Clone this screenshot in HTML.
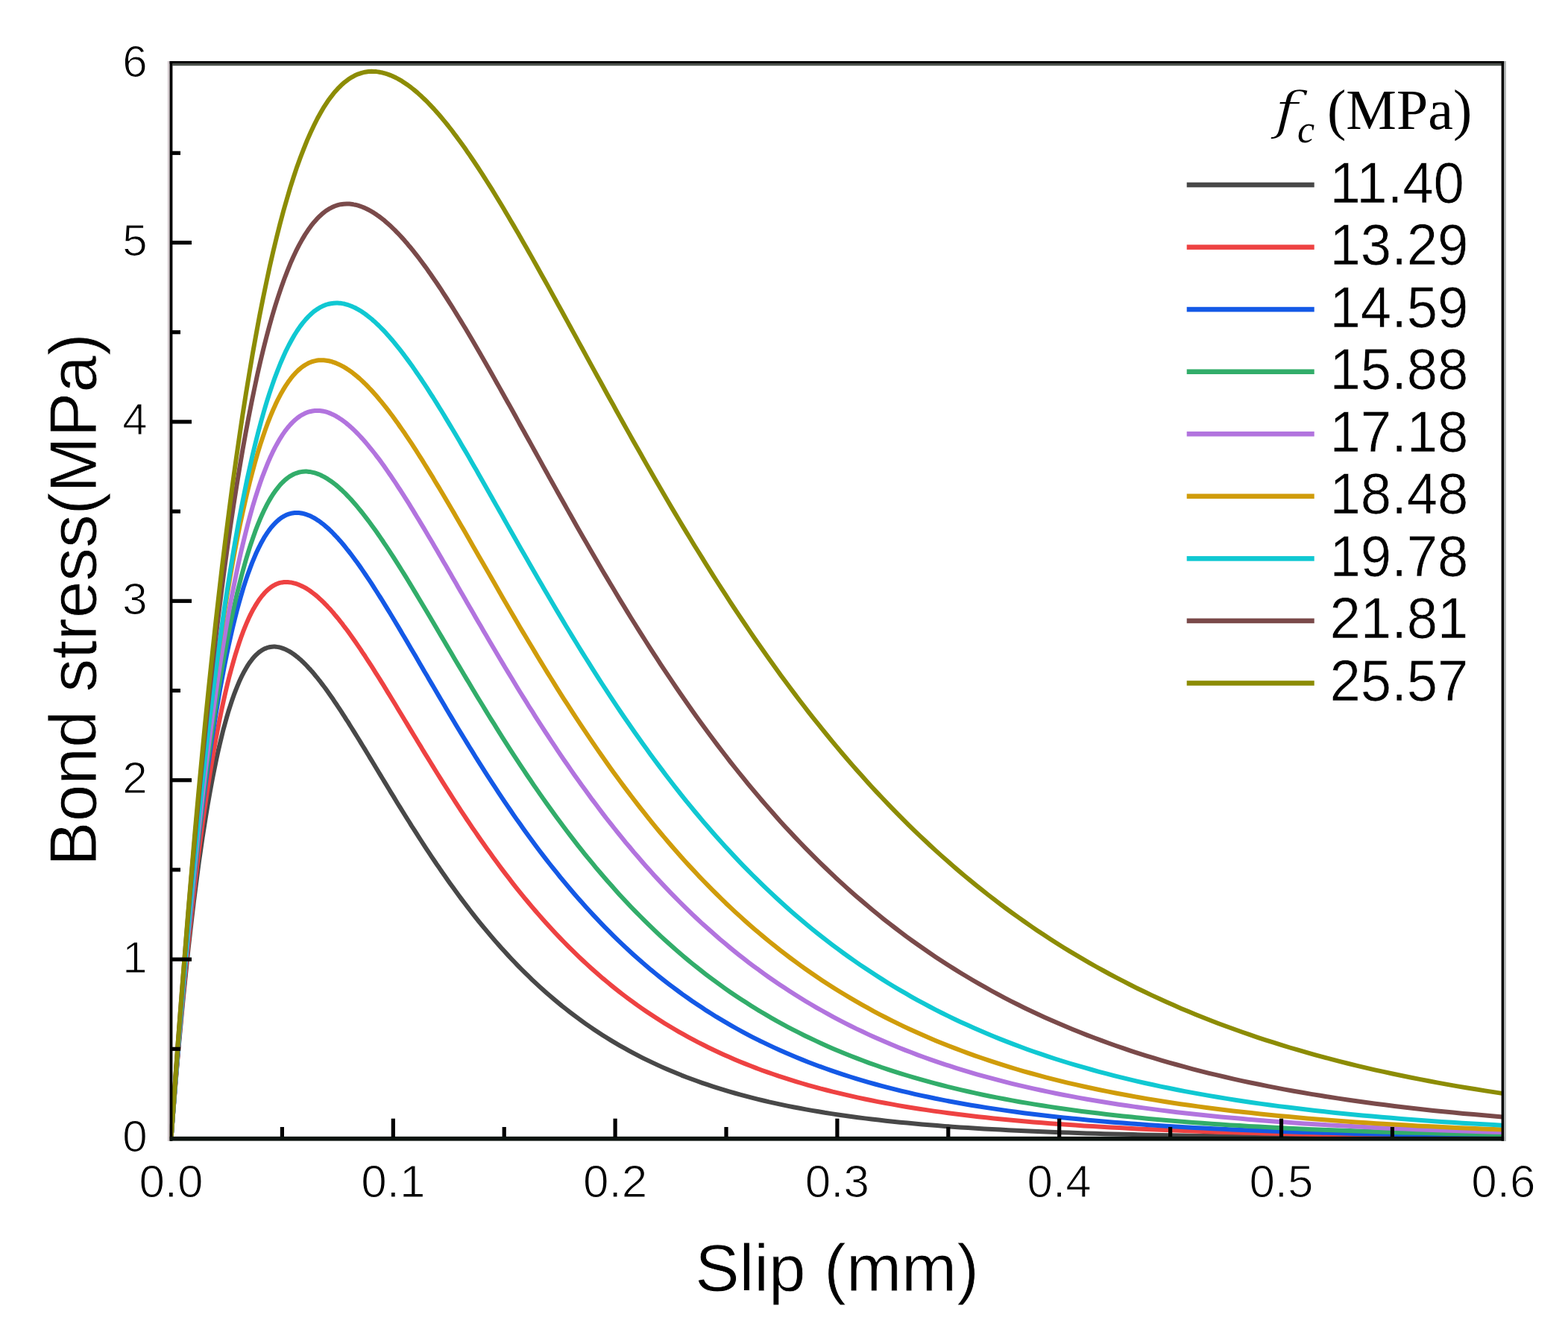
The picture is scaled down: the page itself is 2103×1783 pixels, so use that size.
<!DOCTYPE html><html><head><meta charset="utf-8"><title>Bond stress vs slip</title><style>html,body{margin:0;padding:0;background:#fff;overflow:hidden}svg{display:block}text{font-family:"Liberation Sans",Arial,sans-serif;fill:#000}.tm{font-family:"Liberation Serif","Times New Roman",serif}.dv{font-family:"DejaVu Serif",serif}</style></head><body>
<svg width="2103" height="1783" viewBox="0 0 2103 1783">
<rect width="2103" height="1783" fill="#fff"/>
<g fill="none" stroke-width="6.0" stroke-linejoin="round" stroke-linecap="butt">
<path stroke="#484848" d="M229.5,1527.5 231.8,1497.6 234.2,1468.7 236.5,1440.8 238.8,1413.9 241.2,1387.8 243.5,1362.7 245.8,1338.5 248.2,1315.1 250.5,1292.6 252.8,1270.9 255.2,1249.9 257.5,1229.8 259.8,1210.4 262.2,1191.8 264.5,1173.8 266.8,1156.6 269.2,1140.0 271.5,1124.1 273.9,1108.9 276.2,1094.2 278.5,1080.2 280.9,1066.8 283.2,1054.0 285.5,1041.7 287.9,1029.9 290.2,1018.7 292.5,1008.0 294.9,997.9 297.2,988.2 299.5,978.9 301.9,970.2 304.2,961.9 306.5,954.0 308.9,946.6 311.2,939.5 313.5,932.9 315.9,926.6 318.2,920.8 320.5,915.3 322.9,910.1 325.2,905.3 327.5,900.9 329.9,896.7 332.2,892.9 334.5,889.4 336.9,886.2 339.2,883.2 341.5,880.6 343.9,878.2 346.2,876.1 348.6,874.2 350.9,872.6 353.2,871.2 355.6,870.1 357.9,869.2 360.2,868.5 362.6,868.0 364.9,867.7 367.2,867.6 368.6,867.6 370.0,867.7 371.4,867.9 372.8,868.1 374.2,868.3 375.7,868.7 377.1,869.1 378.6,869.6 380.1,870.1 381.6,870.7 383.1,871.3 384.6,872.1 386.1,872.9 387.7,873.7 389.3,874.6 390.9,875.6 392.5,876.7 394.1,877.8 395.7,879.0 397.4,880.3 399.0,881.6 400.7,883.1 402.4,884.5 404.2,886.1 405.9,887.7 407.6,889.4 409.4,891.2 411.2,893.0 413.0,894.9 414.8,896.9 416.7,898.9 418.6,901.0 420.4,903.2 422.3,905.5 424.2,907.8 426.2,910.2 428.1,912.7 430.1,915.2 432.1,917.9 434.1,920.5 436.2,923.3 438.2,926.1 440.3,929.0 442.4,932.0 444.5,935.0 446.7,938.1 448.8,941.3 451.0,944.5 453.2,947.8 455.4,951.2 457.7,954.6 459.9,958.1 462.2,961.6 464.5,965.3 466.9,968.9 469.2,972.7 471.6,976.5 474.0,980.3 476.5,984.3 478.9,988.2 481.4,992.3 483.9,996.4 486.4,1000.5 489.0,1004.7 491.6,1009.0 494.2,1013.3 496.8,1017.6 499.5,1022.0 502.2,1026.5 504.9,1031.0 507.6,1035.5 510.4,1040.1 513.2,1044.7 516.0,1049.4 518.9,1054.1 521.7,1058.8 524.6,1063.6 527.6,1068.4 530.5,1073.3 533.5,1078.2 536.6,1083.1 539.6,1088.0 542.7,1093.0 545.8,1098.0 549.0,1103.0 552.1,1108.1 555.4,1113.1 558.6,1118.2 561.9,1123.3 565.2,1128.5 568.5,1133.6 571.9,1138.8 575.3,1143.9 578.7,1149.1 582.2,1154.3 585.7,1159.5 589.3,1164.6 592.8,1169.8 596.5,1175.0 600.1,1180.2 603.8,1185.4 607.5,1190.6 611.3,1195.8 615.1,1201.0 618.9,1206.1 622.8,1211.3 626.7,1216.4 630.6,1221.5 634.6,1226.7 638.7,1231.8 642.7,1236.8 646.8,1241.9 651.0,1246.9 655.2,1251.9 659.4,1256.9 663.7,1261.9 668.0,1266.8 672.4,1271.7 676.8,1276.6 681.2,1281.4 685.7,1286.2 690.3,1291.0 694.9,1295.8 699.5,1300.5 704.2,1305.1 708.9,1309.7 713.6,1314.3 718.5,1318.9 723.3,1323.4 728.2,1327.8 733.2,1332.2 738.2,1336.6 743.3,1340.9 748.4,1345.1 753.5,1349.4 758.8,1353.5 764.0,1357.6 769.3,1361.7 774.7,1365.7 780.1,1369.7 785.6,1373.6 791.1,1377.4 796.7,1381.2 802.4,1385.0 808.1,1388.7 813.8,1392.3 819.6,1395.9 825.5,1399.4 831.4,1402.8 837.4,1406.2 843.5,1409.6 849.6,1412.9 855.8,1416.1 862.0,1419.3 868.3,1422.4 874.6,1425.4 881.0,1428.4 887.5,1431.4 894.1,1434.3 900.7,1437.1 907.4,1439.8 914.1,1442.6 920.9,1445.2 927.8,1447.8 934.7,1450.3 941.8,1452.8 948.8,1455.2 956.0,1457.6 963.2,1459.9 970.5,1462.2 977.9,1464.4 985.3,1466.5 992.9,1468.6 1000.5,1470.7 1008.1,1472.7 1015.9,1474.6 1023.7,1476.5 1031.6,1478.4 1039.6,1480.1 1047.6,1481.9 1055.8,1483.6 1064.0,1485.2 1072.3,1486.8 1080.7,1488.4 1089.1,1489.9 1097.7,1491.3 1106.3,1492.8 1115.0,1494.1 1123.9,1495.5 1132.8,1496.8 1141.7,1498.0 1150.8,1499.2 1160.0,1500.4 1169.2,1501.5 1178.6,1502.6 1188.0,1503.7 1197.6,1504.7 1207.2,1505.7 1216.9,1506.6 1226.7,1507.5 1236.7,1508.4 1246.7,1509.3 1256.8,1510.1 1267.0,1510.9 1277.3,1511.7 1287.8,1512.4 1298.3,1513.1 1308.9,1513.8 1319.7,1514.4 1330.5,1515.0 1341.5,1515.6 1352.5,1516.2 1363.7,1516.8 1375.0,1517.3 1386.4,1517.8 1397.9,1518.3 1409.5,1518.8 1421.2,1519.2 1433.1,1519.6 1445.1,1520.0 1457.2,1520.4 1469.4,1520.8 1481.7,1521.2 1494.2,1521.5 1506.7,1521.8 1519.4,1522.1 1532.3,1522.4 1545.2,1522.7 1558.3,1523.0 1571.5,1523.2 1584.9,1523.5 1598.4,1523.7 1612.0,1523.9 1625.8,1524.1 1639.6,1524.3 1653.7,1524.5 1667.8,1524.7 1682.1,1524.9 1696.6,1525.0 1711.2,1525.2 1725.9,1525.3 1740.8,1525.4 1755.9,1525.6 1771.0,1525.7 1786.4,1525.8 1801.9,1525.9 1817.5,1526.0 1833.3,1526.1 1849.3,1526.2 1865.4,1526.3 1881.6,1526.4 1898.1,1526.4 1914.7,1526.5 1931.4,1526.6 1948.4,1526.6 1965.5,1526.7 1982.7,1526.7 2000.2,1526.8 2017.8,1526.8"/>
<path stroke="#EE4242" d="M229.5,1527.5 232.1,1493.7 234.7,1461.0 237.3,1429.4 239.9,1398.9 242.5,1369.5 245.1,1341.1 247.8,1313.7 250.4,1287.2 253.0,1261.7 255.6,1237.2 258.2,1213.5 260.8,1190.7 263.4,1168.8 266.0,1147.7 268.6,1127.4 271.2,1107.9 273.8,1089.2 276.4,1071.2 279.1,1053.9 281.7,1037.4 284.3,1021.5 286.9,1006.3 289.5,991.8 292.1,977.9 294.7,964.6 297.3,951.9 299.9,939.8 302.5,928.3 305.1,917.4 307.7,906.9 310.4,897.0 313.0,887.6 315.6,878.7 318.2,870.3 320.8,862.3 323.4,854.8 326.0,847.7 328.6,841.1 331.2,834.9 333.8,829.1 336.4,823.6 339.0,818.6 341.7,813.9 344.3,809.6 346.9,805.6 349.5,802.0 352.1,798.7 354.7,795.7 357.3,793.0 359.9,790.6 362.5,788.5 365.1,786.6 367.7,785.1 370.3,783.8 373.0,782.7 375.6,781.9 378.2,781.4 380.8,781.1 383.4,780.9 384.9,781.0 386.3,781.1 387.8,781.2 389.3,781.4 390.9,781.6 392.4,781.9 393.9,782.3 395.5,782.7 397.1,783.2 398.7,783.7 400.3,784.3 401.9,785.0 403.6,785.7 405.2,786.5 406.9,787.3 408.6,788.2 410.3,789.2 412.0,790.2 413.7,791.3 415.5,792.5 417.3,793.8 419.0,795.1 420.8,796.5 422.7,797.9 424.5,799.4 426.4,801.0 428.2,802.7 430.1,804.4 432.0,806.2 434.0,808.1 435.9,810.1 437.9,812.1 439.8,814.2 441.8,816.3 443.9,818.6 445.9,820.9 448.0,823.3 450.0,825.8 452.1,828.3 454.3,830.9 456.4,833.6 458.6,836.3 460.7,839.2 462.9,842.1 465.2,845.0 467.4,848.1 469.7,851.2 472.0,854.4 474.3,857.7 476.6,861.0 478.9,864.4 481.3,867.9 483.7,871.4 486.1,875.1 488.6,878.7 491.0,882.5 493.5,886.3 496.0,890.2 498.6,894.2 501.1,898.2 503.7,902.3 506.3,906.4 509.0,910.6 511.6,914.9 514.3,919.2 517.0,923.6 519.7,928.1 522.5,932.6 525.3,937.2 528.1,941.8 531.0,946.5 533.8,951.2 536.7,956.0 539.6,960.8 542.6,965.7 545.6,970.6 548.6,975.6 551.6,980.6 554.7,985.7 557.8,990.8 560.9,996.0 564.1,1001.1 567.2,1006.4 570.4,1011.6 573.7,1016.9 577.0,1022.3 580.3,1027.6 583.6,1033.0 587.0,1038.5 590.4,1043.9 593.8,1049.4 597.3,1054.9 600.8,1060.4 604.3,1065.9 607.9,1071.5 611.5,1077.1 615.1,1082.7 618.8,1088.3 622.5,1093.9 626.2,1099.5 630.0,1105.1 633.8,1110.8 637.7,1116.4 641.5,1122.0 645.5,1127.7 649.4,1133.3 653.4,1139.0 657.5,1144.6 661.5,1150.2 665.6,1155.8 669.8,1161.5 674.0,1167.1 678.2,1172.6 682.5,1178.2 686.8,1183.8 691.1,1189.3 695.5,1194.8 700.0,1200.3 704.4,1205.8 709.0,1211.2 713.5,1216.6 718.1,1222.0 722.8,1227.4 727.5,1232.7 732.2,1238.0 737.0,1243.3 741.8,1248.5 746.7,1253.7 751.6,1258.9 756.6,1264.0 761.6,1269.1 766.7,1274.2 771.8,1279.1 776.9,1284.1 782.1,1289.0 787.4,1293.9 792.7,1298.7 798.1,1303.5 803.5,1308.2 808.9,1312.9 814.5,1317.5 820.0,1322.1 825.6,1326.6 831.3,1331.1 837.0,1335.5 842.8,1339.8 848.7,1344.1 854.5,1348.4 860.5,1352.6 866.5,1356.7 872.6,1360.8 878.7,1364.8 884.9,1368.8 891.1,1372.7 897.4,1376.5 903.7,1380.3 910.2,1384.1 916.6,1387.7 923.2,1391.3 929.8,1394.9 936.4,1398.4 943.2,1401.8 950.0,1405.2 956.8,1408.5 963.7,1411.8 970.7,1415.0 977.8,1418.1 984.9,1421.2 992.1,1424.2 999.3,1427.1 1006.7,1430.0 1014.0,1432.9 1021.5,1435.7 1029.1,1438.4 1036.7,1441.0 1044.3,1443.7 1052.1,1446.2 1059.9,1448.7 1067.8,1451.1 1075.8,1453.5 1083.8,1455.9 1092.0,1458.1 1100.2,1460.4 1108.5,1462.5 1116.8,1464.7 1125.3,1466.7 1133.8,1468.7 1142.4,1470.7 1151.1,1472.6 1159.9,1474.5 1168.7,1476.3 1177.6,1478.1 1186.7,1479.8 1195.8,1481.4 1205.0,1483.1 1214.3,1484.7 1223.6,1486.2 1233.1,1487.7 1242.6,1489.1 1252.3,1490.6 1262.0,1491.9 1271.8,1493.3 1281.7,1494.5 1291.8,1495.8 1301.9,1497.0 1312.1,1498.2 1322.4,1499.3 1332.8,1500.4 1343.3,1501.5 1353.9,1502.5 1364.6,1503.5 1375.4,1504.5 1386.3,1505.4 1397.3,1506.3 1408.4,1507.2 1419.6,1508.0 1430.9,1508.8 1442.4,1509.6 1453.9,1510.4 1465.6,1511.1 1477.3,1511.8 1489.2,1512.5 1501.2,1513.1 1513.3,1513.8 1525.5,1514.4 1537.8,1515.0 1550.3,1515.5 1562.8,1516.1 1575.5,1516.6 1588.3,1517.1 1601.3,1517.6 1614.3,1518.0 1627.5,1518.5 1640.8,1518.9 1654.2,1519.3 1667.8,1519.7 1681.5,1520.1 1695.3,1520.4 1709.2,1520.8 1723.3,1521.1 1737.5,1521.4 1751.9,1521.7 1766.4,1522.0 1781.0,1522.3 1795.7,1522.5 1810.6,1522.8 1825.7,1523.0 1840.9,1523.3 1856.2,1523.5 1871.7,1523.7 1887.3,1523.9 1903.1,1524.1 1919.0,1524.3 1935.1,1524.4 1951.3,1524.6 1967.7,1524.7 1984.2,1524.9 2000.9,1525.0 2017.8,1525.2"/>
<path stroke="#1459E6" d="M229.5,1527.5 232.4,1489.5 235.2,1452.7 238.1,1417.2 240.9,1382.9 243.8,1349.8 246.6,1317.9 249.5,1287.0 252.3,1257.3 255.2,1228.6 258.0,1201.0 260.9,1174.4 263.7,1148.8 266.6,1124.1 269.4,1100.4 272.3,1077.5 275.2,1055.6 278.0,1034.5 280.9,1014.3 283.7,994.9 286.6,976.3 289.4,958.5 292.3,941.4 295.1,925.0 298.0,909.4 300.8,894.5 303.7,880.2 306.5,866.6 309.4,853.7 312.2,841.3 315.1,829.6 317.9,818.5 320.8,807.9 323.7,797.9 326.5,788.4 329.4,779.4 332.2,771.0 335.1,763.1 337.9,755.6 340.8,748.6 343.6,742.0 346.5,735.9 349.3,730.3 352.2,725.0 355.0,720.1 357.9,715.7 360.7,711.6 363.6,707.8 366.5,704.5 369.3,701.4 372.2,698.8 375.0,696.4 377.9,694.3 380.7,692.6 383.6,691.1 386.4,689.9 389.3,689.1 392.1,688.4 395.0,688.1 397.8,687.9 399.4,688.0 400.9,688.1 402.5,688.2 404.1,688.5 405.7,688.8 407.3,689.1 408.9,689.6 410.6,690.1 412.2,690.7 413.9,691.3 415.6,692.0 417.3,692.8 419.0,693.7 420.8,694.6 422.5,695.6 424.3,696.7 426.1,697.9 427.9,699.1 429.7,700.4 431.5,701.8 433.4,703.2 435.3,704.8 437.1,706.4 439.0,708.0 441.0,709.8 442.9,711.6 444.9,713.5 446.8,715.5 448.8,717.6 450.8,719.7 452.9,721.9 454.9,724.2 457.0,726.6 459.1,729.0 461.2,731.5 463.3,734.1 465.4,736.8 467.6,739.5 469.8,742.3 472.0,745.2 474.2,748.2 476.4,751.2 478.7,754.3 481.0,757.5 483.3,760.8 485.6,764.1 488.0,767.6 490.3,771.0 492.7,774.6 495.1,778.2 497.6,781.9 500.0,785.7 502.5,789.6 505.0,793.5 507.5,797.5 510.1,801.5 512.7,805.6 515.3,809.8 517.9,814.1 520.5,818.4 523.2,822.8 525.9,827.2 528.6,831.7 531.3,836.3 534.1,840.9 536.9,845.6 539.7,850.4 542.6,855.2 545.4,860.1 548.3,865.0 551.2,870.0 554.2,875.0 557.2,880.1 560.2,885.2 563.2,890.4 566.3,895.7 569.3,901.0 572.5,906.3 575.6,911.7 578.8,917.1 582.0,922.6 585.2,928.1 588.5,933.6 591.8,939.2 595.1,944.8 598.4,950.5 601.8,956.2 605.2,961.9 608.7,967.7 612.1,973.5 615.6,979.3 619.2,985.1 622.8,991.0 626.4,996.9 630.0,1002.8 633.7,1008.7 637.4,1014.7 641.1,1020.6 644.9,1026.6 648.7,1032.6 652.5,1038.6 656.4,1044.7 660.3,1050.7 664.3,1056.7 668.3,1062.8 672.3,1068.8 676.3,1074.9 680.4,1080.9 684.6,1087.0 688.7,1093.1 692.9,1099.1 697.2,1105.1 701.5,1111.2 705.8,1117.2 710.2,1123.2 714.6,1129.2 719.0,1135.2 723.5,1141.2 728.0,1147.1 732.6,1153.1 737.2,1159.0 741.9,1164.9 746.6,1170.7 751.3,1176.6 756.1,1182.4 760.9,1188.2 765.8,1194.0 770.7,1199.7 775.7,1205.4 780.7,1211.1 785.7,1216.7 790.8,1222.3 796.0,1227.9 801.2,1233.4 806.4,1238.9 811.7,1244.3 817.0,1249.7 822.4,1255.1 827.8,1260.4 833.3,1265.6 838.9,1270.9 844.4,1276.0 850.1,1281.2 855.8,1286.2 861.5,1291.3 867.3,1296.2 873.1,1301.2 879.0,1306.0 885.0,1310.8 891.0,1315.6 897.1,1320.3 903.2,1324.9 909.4,1329.5 915.6,1334.1 921.9,1338.5 928.2,1343.0 934.6,1347.3 941.1,1351.6 947.6,1355.9 954.2,1360.0 960.8,1364.2 967.5,1368.2 974.3,1372.2 981.1,1376.1 988.0,1380.0 995.0,1383.8 1002.0,1387.6 1009.1,1391.3 1016.2,1394.9 1023.4,1398.4 1030.7,1401.9 1038.1,1405.4 1045.5,1408.8 1052.9,1412.1 1060.5,1415.3 1068.1,1418.5 1075.8,1421.6 1083.5,1424.7 1091.4,1427.7 1099.3,1430.7 1107.2,1433.5 1115.3,1436.4 1123.4,1439.1 1131.6,1441.8 1139.9,1444.5 1148.2,1447.1 1156.6,1449.6 1165.1,1452.1 1173.7,1454.5 1182.4,1456.9 1191.1,1459.2 1199.9,1461.4 1208.8,1463.6 1217.8,1465.7 1226.8,1467.8 1236.0,1469.9 1245.2,1471.8 1254.5,1473.8 1263.9,1475.6 1273.4,1477.5 1283.0,1479.3 1292.6,1481.0 1302.4,1482.7 1312.2,1484.3 1322.1,1485.9 1332.1,1487.4 1342.2,1488.9 1352.4,1490.4 1362.7,1491.8 1373.1,1493.2 1383.6,1494.5 1394.2,1495.8 1404.8,1497.0 1415.6,1498.2 1426.5,1499.4 1437.5,1500.5 1448.5,1501.6 1459.7,1502.7 1471.0,1503.7 1482.4,1504.7 1493.8,1505.7 1505.4,1506.6 1517.1,1507.5 1528.9,1508.3 1540.8,1509.2 1552.9,1510.0 1565.0,1510.7 1577.2,1511.5 1589.6,1512.2 1602.0,1512.9 1614.6,1513.5 1627.3,1514.2 1640.1,1514.8 1653.1,1515.4 1666.1,1516.0 1679.3,1516.5 1692.6,1517.0 1706.0,1517.5 1719.5,1518.0 1733.2,1518.5 1747.0,1518.9 1760.9,1519.3 1774.9,1519.7 1789.1,1520.1 1803.4,1520.5 1817.8,1520.9 1832.3,1521.2 1847.0,1521.5 1861.9,1521.8 1876.8,1522.1 1891.9,1522.4 1907.1,1522.7 1922.5,1522.9 1938.0,1523.2 1953.7,1523.4 1969.5,1523.6 1985.5,1523.9 2001.5,1524.1 2017.8,1524.2"/>
<path stroke="#32AD6A" d="M229.5,1527.5 232.6,1487.0 235.6,1447.8 238.7,1409.9 241.7,1373.4 244.8,1338.1 247.8,1304.0 250.9,1271.2 253.9,1239.5 257.0,1208.9 260.0,1179.5 263.1,1151.1 266.1,1123.8 269.2,1097.5 272.2,1072.2 275.3,1047.9 278.3,1024.5 281.4,1002.1 284.4,980.5 287.5,959.8 290.5,940.0 293.6,921.0 296.6,902.8 299.7,885.3 302.8,868.7 305.8,852.8 308.9,837.6 311.9,823.1 315.0,809.3 318.0,796.1 321.1,783.6 324.1,771.7 327.2,760.5 330.2,749.8 333.3,739.7 336.3,730.2 339.4,721.2 342.4,712.7 345.5,704.7 348.5,697.3 351.6,690.3 354.6,683.8 357.7,677.7 360.7,672.1 363.8,666.9 366.8,662.2 369.9,657.8 373.0,653.8 376.0,650.2 379.1,647.0 382.1,644.1 385.2,641.6 388.2,639.4 391.3,637.6 394.3,636.0 397.4,634.8 400.4,633.8 403.5,633.1 406.5,632.7 409.6,632.6 411.2,632.6 412.8,632.7 414.4,632.9 416.1,633.1 417.7,633.4 419.4,633.8 421.1,634.2 422.8,634.7 424.5,635.2 426.3,635.9 428.0,636.6 429.8,637.3 431.6,638.2 433.4,639.1 435.2,640.0 437.0,641.1 438.9,642.2 440.7,643.4 442.6,644.7 444.5,646.0 446.4,647.4 448.3,648.9 450.3,650.4 452.3,652.1 454.2,653.8 456.2,655.6 458.3,657.4 460.3,659.3 462.4,661.3 464.4,663.4 466.5,665.6 468.6,667.8 470.8,670.1 472.9,672.5 475.1,675.0 477.3,677.5 479.5,680.1 481.7,682.8 483.9,685.5 486.2,688.4 488.5,691.3 490.8,694.3 493.1,697.3 495.5,700.5 497.8,703.7 500.2,707.0 502.6,710.3 505.1,713.8 507.5,717.3 510.0,720.9 512.5,724.5 515.0,728.3 517.6,732.1 520.1,735.9 522.7,739.9 525.3,743.9 528.0,748.0 530.6,752.1 533.3,756.4 536.0,760.7 538.7,765.0 541.5,769.4 544.3,773.9 547.1,778.5 549.9,783.1 552.7,787.8 555.6,792.6 558.5,797.4 561.4,802.2 564.4,807.2 567.4,812.2 570.4,817.2 573.4,822.3 576.5,827.5 579.6,832.7 582.7,838.0 585.8,843.3 589.0,848.7 592.2,854.1 595.4,859.6 598.7,865.1 602.0,870.7 605.3,876.3 608.6,882.0 612.0,887.7 615.4,893.4 618.9,899.2 622.3,905.0 625.8,910.9 629.4,916.8 632.9,922.7 636.5,928.7 640.1,934.7 643.8,940.7 647.5,946.8 651.2,952.9 654.9,959.0 658.7,965.1 662.6,971.2 666.4,977.4 670.3,983.6 674.2,989.8 678.2,996.1 682.2,1002.3 686.2,1008.6 690.3,1014.8 694.4,1021.1 698.5,1027.4 702.7,1033.7 706.9,1040.0 711.2,1046.3 715.4,1052.6 719.8,1058.9 724.1,1065.1 728.5,1071.4 733.0,1077.7 737.5,1084.0 742.0,1090.3 746.5,1096.5 751.2,1102.8 755.8,1109.0 760.5,1115.2 765.2,1121.4 770.0,1127.6 774.8,1133.8 779.6,1139.9 784.5,1146.1 789.5,1152.2 794.5,1158.2 799.5,1164.3 804.6,1170.3 809.7,1176.3 814.9,1182.2 820.1,1188.1 825.3,1194.0 830.6,1199.9 836.0,1205.7 841.4,1211.5 846.8,1217.2 852.3,1222.9 857.9,1228.5 863.5,1234.2 869.1,1239.7 874.8,1245.2 880.5,1250.7 886.3,1256.1 892.2,1261.5 898.1,1266.8 904.0,1272.1 910.0,1277.3 916.1,1282.5 922.2,1287.6 928.4,1292.7 934.6,1297.7 940.9,1302.7 947.2,1307.6 953.6,1312.4 960.1,1317.2 966.6,1321.9 973.1,1326.6 979.7,1331.2 986.4,1335.7 993.2,1340.2 1000.0,1344.6 1006.8,1349.0 1013.7,1353.3 1020.7,1357.5 1027.8,1361.7 1034.9,1365.8 1042.0,1369.9 1049.3,1373.9 1056.6,1377.8 1063.9,1381.6 1071.4,1385.4 1078.9,1389.2 1086.4,1392.8 1094.1,1396.4 1101.8,1400.0 1109.5,1403.5 1117.4,1406.9 1125.3,1410.2 1133.2,1413.5 1141.3,1416.8 1149.4,1419.9 1157.6,1423.0 1165.8,1426.1 1174.2,1429.0 1182.6,1432.0 1191.1,1434.8 1199.6,1437.6 1208.3,1440.3 1217.0,1443.0 1225.8,1445.6 1234.6,1448.2 1243.6,1450.7 1252.6,1453.1 1261.7,1455.5 1270.9,1457.9 1280.2,1460.1 1289.6,1462.3 1299.0,1464.5 1308.5,1466.6 1318.1,1468.7 1327.8,1470.7 1337.6,1472.6 1347.5,1474.5 1357.4,1476.4 1367.4,1478.2 1377.6,1479.9 1387.8,1481.6 1398.1,1483.3 1408.5,1484.9 1419.0,1486.5 1429.6,1488.0 1440.3,1489.5 1451.1,1490.9 1461.9,1492.3 1472.9,1493.6 1484.0,1494.9 1495.1,1496.2 1506.4,1497.4 1517.8,1498.6 1529.3,1499.8 1540.8,1500.9 1552.5,1502.0 1564.3,1503.0 1576.2,1504.0 1588.2,1505.0 1600.2,1505.9 1612.5,1506.8 1624.8,1507.7 1637.2,1508.5 1649.7,1509.4 1662.4,1510.1 1675.1,1510.9 1688.0,1511.6 1701.0,1512.3 1714.1,1513.0 1727.3,1513.7 1740.6,1514.3 1754.1,1514.9 1767.7,1515.5 1781.3,1516.0 1795.2,1516.6 1809.1,1517.1 1823.2,1517.6 1837.4,1518.1 1851.7,1518.5 1866.1,1518.9 1880.7,1519.4 1895.4,1519.8 1910.2,1520.1 1925.2,1520.5 1940.3,1520.9 1955.5,1521.2 1970.9,1521.5 1986.4,1521.8 2002.0,1522.1 2017.8,1522.4"/>
<path stroke="#B274DE" d="M229.5,1527.5 232.8,1483.3 236.1,1440.5 239.5,1399.2 242.8,1359.3 246.1,1320.8 249.4,1283.6 252.8,1247.8 256.1,1213.2 259.4,1179.8 262.7,1147.7 266.0,1116.7 269.4,1086.9 272.7,1058.2 276.0,1030.6 279.3,1004.1 282.7,978.6 286.0,954.1 289.3,930.5 292.6,908.0 295.9,886.3 299.3,865.6 302.6,845.7 305.9,826.7 309.2,808.5 312.6,791.1 315.9,774.6 319.2,758.7 322.5,743.7 325.9,729.3 329.2,715.7 332.5,702.7 335.8,690.4 339.1,678.8 342.5,667.7 345.8,657.3 349.1,647.5 352.4,638.3 355.8,629.6 359.1,621.4 362.4,613.8 365.7,606.7 369.0,600.1 372.4,594.0 375.7,588.3 379.0,583.1 382.3,578.4 385.7,574.0 389.0,570.1 392.3,566.6 395.6,563.5 398.9,560.7 402.3,558.3 405.6,556.3 408.9,554.6 412.2,553.2 415.6,552.2 418.9,551.5 422.2,551.0 425.5,550.9 427.2,550.9 428.9,551.0 430.6,551.2 432.3,551.5 434.1,551.8 435.8,552.2 437.6,552.7 439.4,553.2 441.2,553.9 443.0,554.6 444.8,555.4 446.7,556.2 448.5,557.1 450.4,558.2 452.3,559.3 454.2,560.4 456.1,561.7 458.1,563.0 460.0,564.4 462.0,565.9 464.0,567.4 466.0,569.1 468.0,570.8 470.1,572.6 472.2,574.5 474.2,576.4 476.3,578.4 478.5,580.6 480.6,582.8 482.7,585.0 484.9,587.4 487.1,589.8 489.3,592.3 491.5,594.9 493.8,597.6 496.0,600.3 498.3,603.1 500.6,606.0 503.0,609.0 505.3,612.1 507.7,615.2 510.1,618.4 512.5,621.7 514.9,625.1 517.3,628.5 519.8,632.1 522.3,635.7 524.8,639.3 527.3,643.1 529.9,646.9 532.5,650.8 535.0,654.8 537.7,658.8 540.3,662.9 543.0,667.1 545.7,671.4 548.4,675.7 551.1,680.1 553.9,684.6 556.6,689.1 559.4,693.7 562.3,698.4 565.1,703.1 568.0,707.9 570.9,712.8 573.8,717.7 576.8,722.7 579.8,727.8 582.8,732.9 585.8,738.1 588.8,743.3 591.9,748.6 595.0,753.9 598.2,759.3 601.3,764.8 604.5,770.3 607.7,775.9 611.0,781.5 614.2,787.2 617.5,792.9 620.9,798.7 624.2,804.5 627.6,810.4 631.0,816.3 634.5,822.2 637.9,828.2 641.4,834.2 645.0,840.3 648.5,846.4 652.1,852.6 655.7,858.7 659.4,865.0 663.1,871.2 666.8,877.5 670.5,883.8 674.3,890.1 678.1,896.5 682.0,902.9 685.9,909.3 689.8,915.7 693.7,922.2 697.7,928.7 701.7,935.1 705.8,941.7 709.8,948.2 714.0,954.7 718.1,961.3 722.3,967.8 726.5,974.4 730.8,981.0 735.1,987.5 739.4,994.1 743.8,1000.7 748.2,1007.3 752.6,1013.9 757.1,1020.5 761.7,1027.0 766.2,1033.6 770.8,1040.2 775.5,1046.7 780.1,1053.3 784.9,1059.8 789.6,1066.3 794.4,1072.9 799.3,1079.3 804.1,1085.8 809.1,1092.3 814.0,1098.7 819.1,1105.1 824.1,1111.5 829.2,1117.9 834.3,1124.2 839.5,1130.6 844.8,1136.8 850.0,1143.1 855.4,1149.3 860.7,1155.5 866.1,1161.7 871.6,1167.8 877.1,1173.9 882.6,1179.9 888.2,1185.9 893.9,1191.9 899.6,1197.8 905.3,1203.7 911.1,1209.5 917.0,1215.3 922.9,1221.1 928.8,1226.8 934.8,1232.5 940.8,1238.1 946.9,1243.6 953.1,1249.1 959.3,1254.6 965.5,1260.0 971.9,1265.3 978.2,1270.6 984.6,1275.9 991.1,1281.1 997.6,1286.2 1004.2,1291.3 1010.9,1296.3 1017.6,1301.2 1024.3,1306.1 1031.1,1311.0 1038.0,1315.8 1044.9,1320.5 1051.9,1325.1 1059.0,1329.7 1066.1,1334.3 1073.3,1338.8 1080.5,1343.2 1087.8,1347.5 1095.1,1351.8 1102.6,1356.0 1110.0,1360.2 1117.6,1364.3 1125.2,1368.3 1132.9,1372.3 1140.6,1376.2 1148.4,1380.1 1156.3,1383.8 1164.3,1387.6 1172.3,1391.2 1180.4,1394.8 1188.5,1398.3 1196.7,1401.8 1205.0,1405.2 1213.4,1408.6 1221.8,1411.8 1230.3,1415.1 1238.9,1418.2 1247.6,1421.3 1256.3,1424.3 1265.1,1427.3 1274.0,1430.2 1282.9,1433.1 1292.0,1435.9 1301.1,1438.6 1310.2,1441.3 1319.5,1443.9 1328.9,1446.4 1338.3,1448.9 1347.8,1451.4 1357.4,1453.8 1367.0,1456.1 1376.8,1458.4 1386.6,1460.6 1396.5,1462.8 1406.5,1464.9 1416.6,1467.0 1426.8,1469.0 1437.1,1470.9 1447.4,1472.9 1457.9,1474.7 1468.4,1476.5 1479.0,1478.3 1489.7,1480.0 1500.5,1481.7 1511.4,1483.3 1522.4,1484.9 1533.5,1486.4 1544.7,1487.9 1556.0,1489.4 1567.3,1490.8 1578.8,1492.2 1590.4,1493.5 1602.0,1494.8 1613.8,1496.0 1625.7,1497.2 1637.6,1498.4 1649.7,1499.5 1661.9,1500.6 1674.1,1501.7 1686.5,1502.7 1699.0,1503.7 1711.6,1504.7 1724.3,1505.6 1737.1,1506.5 1750.1,1507.4 1763.1,1508.2 1776.2,1509.1 1789.5,1509.8 1802.9,1510.6 1816.4,1511.3 1830.0,1512.0 1843.7,1512.7 1857.5,1513.4 1871.5,1514.0 1885.6,1514.6 1899.7,1515.2 1914.1,1515.7 1928.5,1516.3 1943.1,1516.8 1957.8,1517.3 1972.6,1517.8 1987.5,1518.2 2002.6,1518.7 2017.8,1519.1"/>
<path stroke="#D09C0A" d="M229.5,1527.5 232.9,1480.2 236.3,1434.5 239.7,1390.3 243.2,1347.7 246.6,1306.5 250.0,1266.7 253.4,1228.4 256.8,1191.4 260.2,1155.7 263.6,1121.4 267.0,1088.3 270.5,1056.4 273.9,1025.7 277.3,996.2 280.7,967.8 284.1,940.5 287.5,914.3 290.9,889.2 294.3,865.0 297.8,841.9 301.2,819.7 304.6,798.4 308.0,778.1 311.4,758.7 314.8,740.1 318.2,722.4 321.6,705.5 325.1,689.3 328.5,674.0 331.9,659.4 335.3,645.5 338.7,632.4 342.1,619.9 345.5,608.1 348.9,597.0 352.4,586.5 355.8,576.6 359.2,567.3 362.6,558.6 366.0,550.5 369.4,542.9 372.8,535.8 376.2,529.3 379.7,523.2 383.1,517.7 386.5,512.6 389.9,507.9 393.3,503.7 396.7,500.0 400.1,496.6 403.5,493.7 407.0,491.1 410.4,489.0 413.8,487.1 417.2,485.7 420.6,484.6 424.0,483.8 427.4,483.3 430.8,483.2 432.6,483.2 434.3,483.3 436.0,483.5 437.8,483.7 439.5,484.0 441.3,484.3 443.1,484.7 444.9,485.2 446.7,485.8 448.6,486.4 450.4,487.1 452.3,487.9 454.2,488.7 456.1,489.6 458.0,490.6 459.9,491.6 461.9,492.7 463.8,493.9 465.8,495.2 467.8,496.5 469.9,497.9 471.9,499.4 473.9,501.0 476.0,502.6 478.1,504.3 480.2,506.1 482.3,507.9 484.5,509.9 486.6,511.9 488.8,514.0 491.0,516.2 493.2,518.4 495.4,520.7 497.7,523.1 500.0,525.6 502.3,528.2 504.6,530.8 506.9,533.5 509.2,536.3 511.6,539.2 514.0,542.1 516.4,545.1 518.8,548.2 521.3,551.4 523.8,554.7 526.3,558.0 528.8,561.5 531.3,565.0 533.9,568.5 536.4,572.2 539.0,575.9 541.7,579.7 544.3,583.6 547.0,587.6 549.7,591.6 552.4,595.7 555.1,599.9 557.9,604.2 560.6,608.5 563.4,612.9 566.3,617.4 569.1,622.0 572.0,626.6 574.9,631.3 577.8,636.1 580.8,640.9 583.7,645.9 586.7,650.9 589.8,655.9 592.8,661.0 595.9,666.2 599.0,671.5 602.1,676.8 605.3,682.2 608.5,687.6 611.7,693.2 614.9,698.7 618.2,704.4 621.5,710.1 624.8,715.8 628.1,721.6 631.5,727.5 634.9,733.4 638.4,739.4 641.8,745.4 645.3,751.5 648.8,757.6 652.4,763.8 656.0,770.0 659.6,776.3 663.2,782.6 666.9,789.0 670.6,795.4 674.3,801.9 678.1,808.4 681.9,814.9 685.7,821.5 689.6,828.1 693.5,834.7 697.4,841.4 701.4,848.1 705.4,854.8 709.4,861.5 713.5,868.3 717.6,875.1 721.7,882.0 725.9,888.8 730.1,895.7 734.3,902.6 738.6,909.5 742.9,916.4 747.2,923.4 751.6,930.3 756.0,937.3 760.5,944.2 765.0,951.2 769.5,958.2 774.1,965.2 778.7,972.2 783.4,979.2 788.1,986.1 792.8,993.1 797.6,1000.1 802.4,1007.1 807.2,1014.0 812.1,1021.0 817.0,1027.9 822.0,1034.9 827.0,1041.8 832.1,1048.7 837.2,1055.6 842.3,1062.4 847.5,1069.3 852.8,1076.1 858.0,1082.9 863.4,1089.7 868.7,1096.4 874.1,1103.1 879.6,1109.8 885.1,1116.5 890.7,1123.1 896.3,1129.7 901.9,1136.3 907.6,1142.8 913.3,1149.3 919.1,1155.7 925.0,1162.1 930.9,1168.4 936.8,1174.8 942.8,1181.0 948.8,1187.2 954.9,1193.4 961.1,1199.5 967.3,1205.6 973.5,1211.7 979.8,1217.6 986.2,1223.6 992.6,1229.4 999.0,1235.2 1005.5,1241.0 1012.1,1246.7 1018.7,1252.3 1025.4,1257.9 1032.2,1263.5 1039.0,1268.9 1045.8,1274.3 1052.7,1279.7 1059.7,1285.0 1066.7,1290.2 1073.8,1295.4 1081.0,1300.5 1088.2,1305.5 1095.5,1310.5 1102.8,1315.4 1110.2,1320.2 1117.6,1325.0 1125.2,1329.7 1132.7,1334.3 1140.4,1338.9 1148.1,1343.4 1155.9,1347.9 1163.7,1352.2 1171.6,1356.6 1179.6,1360.8 1187.7,1365.0 1195.8,1369.1 1204.0,1373.1 1212.2,1377.1 1220.5,1381.0 1228.9,1384.8 1237.4,1388.6 1245.9,1392.3 1254.5,1395.9 1263.2,1399.5 1272.0,1403.0 1280.8,1406.4 1289.7,1409.8 1298.7,1413.1 1307.7,1416.4 1316.9,1419.5 1326.1,1422.6 1335.3,1425.7 1344.7,1428.7 1354.2,1431.6 1363.7,1434.5 1373.3,1437.3 1383.0,1440.0 1392.7,1442.7 1402.6,1445.3 1412.5,1447.8 1422.5,1450.3 1432.6,1452.8 1442.8,1455.1 1453.1,1457.5 1463.5,1459.7 1473.9,1462.0 1484.5,1464.1 1495.1,1466.2 1505.8,1468.3 1516.6,1470.3 1527.5,1472.2 1538.5,1474.1 1549.6,1475.9 1560.8,1477.7 1572.0,1479.5 1583.4,1481.2 1594.9,1482.8 1606.4,1484.4 1618.1,1486.0 1629.8,1487.5 1641.7,1489.0 1653.7,1490.4 1665.7,1491.8 1677.9,1493.1 1690.2,1494.4 1702.5,1495.7 1715.0,1496.9 1727.6,1498.1 1740.3,1499.2 1753.1,1500.4 1766.0,1501.4 1779.0,1502.5 1792.1,1503.5 1805.3,1504.5 1818.7,1505.4 1832.1,1506.3 1845.7,1507.2 1859.4,1508.0 1873.2,1508.8 1887.1,1509.6 1901.1,1510.4 1915.3,1511.1 1929.6,1511.8 1944.0,1512.5 1958.5,1513.2 1973.1,1513.8 1987.9,1514.4 2002.8,1515.0 2017.8,1515.6"/>
<path stroke="#10C8D2" d="M229.5,1527.5 233.3,1476.7 237.0,1427.6 240.8,1380.2 244.5,1334.5 248.3,1290.2 252.1,1247.6 255.8,1206.4 259.6,1166.7 263.3,1128.4 267.1,1091.6 270.9,1056.0 274.6,1021.8 278.4,988.9 282.1,957.2 285.9,926.7 289.7,897.4 293.4,869.3 297.2,842.3 300.9,816.4 304.7,791.5 308.5,767.7 312.2,744.9 316.0,723.1 319.7,702.2 323.5,682.3 327.3,663.3 331.0,645.1 334.8,627.8 338.5,611.3 342.3,595.7 346.1,580.8 349.8,566.7 353.6,553.3 357.3,540.7 361.1,528.7 364.9,517.4 368.6,506.8 372.4,496.9 376.1,487.5 379.9,478.8 383.6,470.6 387.4,463.0 391.2,456.0 394.9,449.5 398.7,443.5 402.4,438.1 406.2,433.1 410.0,428.6 413.7,424.6 417.5,421.0 421.2,417.8 425.0,415.1 428.8,412.7 432.5,410.8 436.3,409.2 440.0,408.0 443.8,407.2 447.6,406.7 451.3,406.5 453.1,406.6 454.9,406.7 456.8,406.8 458.6,407.1 460.4,407.4 462.3,407.8 464.2,408.3 466.1,408.9 468.0,409.5 469.9,410.2 471.9,411.0 473.8,411.9 475.8,412.8 477.8,413.8 479.8,414.9 481.9,416.1 483.9,417.3 486.0,418.6 488.0,420.1 490.1,421.5 492.2,423.1 494.4,424.8 496.5,426.5 498.7,428.3 500.8,430.2 503.0,432.1 505.2,434.2 507.5,436.3 509.7,438.5 512.0,440.8 514.3,443.2 516.6,445.6 518.9,448.2 521.2,450.8 523.6,453.5 526.0,456.3 528.4,459.1 530.8,462.1 533.2,465.1 535.7,468.2 538.2,471.4 540.7,474.6 543.2,478.0 545.7,481.4 548.3,484.9 550.9,488.5 553.5,492.1 556.1,495.9 558.7,499.7 561.4,503.6 564.1,507.5 566.8,511.6 569.5,515.7 572.3,519.9 575.0,524.2 577.8,528.6 580.7,533.0 583.5,537.5 586.4,542.1 589.2,546.7 592.2,551.5 595.1,556.3 598.0,561.1 601.0,566.1 604.0,571.1 607.1,576.2 610.1,581.3 613.2,586.5 616.3,591.8 619.4,597.2 622.6,602.6 625.8,608.1 629.0,613.6 632.2,619.2 635.5,624.9 638.8,630.6 642.1,636.4 645.4,642.3 648.8,648.2 652.2,654.2 655.6,660.2 659.0,666.3 662.5,672.4 666.0,678.6 669.5,684.8 673.1,691.1 676.7,697.5 680.3,703.9 683.9,710.3 687.6,716.8 691.3,723.3 695.1,729.9 698.8,736.5 702.6,743.1 706.5,749.8 710.3,756.5 714.2,763.3 718.1,770.1 722.1,776.9 726.1,783.8 730.1,790.7 734.1,797.6 738.2,804.6 742.3,811.6 746.5,818.6 750.7,825.6 754.9,832.6 759.1,839.7 763.4,846.8 767.7,853.9 772.1,861.0 776.5,868.2 780.9,875.3 785.4,882.5 789.9,889.7 794.4,896.9 799.0,904.1 803.6,911.3 808.2,918.5 812.9,925.7 817.6,932.9 822.4,940.1 827.2,947.3 832.0,954.5 836.9,961.7 841.8,968.8 846.8,976.0 851.8,983.2 856.8,990.3 861.9,997.5 867.0,1004.6 872.1,1011.7 877.3,1018.8 882.6,1025.9 887.9,1032.9 893.2,1040.0 898.6,1047.0 904.0,1054.0 909.4,1060.9 914.9,1067.9 920.5,1074.8 926.1,1081.6 931.7,1088.5 937.4,1095.3 943.1,1102.1 948.9,1108.8 954.7,1115.5 960.6,1122.2 966.5,1128.8 972.5,1135.4 978.5,1141.9 984.5,1148.4 990.6,1154.9 996.8,1161.3 1003.0,1167.6 1009.3,1174.0 1015.6,1180.2 1021.9,1186.4 1028.4,1192.6 1034.8,1198.7 1041.3,1204.8 1047.9,1210.8 1054.5,1216.8 1061.2,1222.7 1067.9,1228.5 1074.7,1234.3 1081.5,1240.0 1088.4,1245.7 1095.4,1251.3 1102.4,1256.9 1109.5,1262.4 1116.6,1267.8 1123.8,1273.2 1131.0,1278.5 1138.3,1283.8 1145.6,1288.9 1153.1,1294.1 1160.5,1299.1 1168.1,1304.1 1175.7,1309.1 1183.3,1313.9 1191.0,1318.7 1198.8,1323.5 1206.6,1328.1 1214.6,1332.7 1222.5,1337.3 1230.6,1341.8 1238.7,1346.2 1246.8,1350.5 1255.1,1354.8 1263.3,1359.0 1271.7,1363.1 1280.1,1367.2 1288.6,1371.2 1297.2,1375.1 1305.9,1379.0 1314.6,1382.8 1323.3,1386.6 1332.2,1390.3 1341.1,1393.9 1350.1,1397.4 1359.2,1400.9 1368.3,1404.3 1377.5,1407.7 1386.8,1411.0 1396.2,1414.2 1405.6,1417.4 1415.1,1420.5 1424.7,1423.5 1434.4,1426.5 1444.2,1429.4 1454.0,1432.2 1463.9,1435.0 1473.9,1437.8 1483.9,1440.4 1494.1,1443.1 1504.3,1445.6 1514.6,1448.1 1525.0,1450.6 1535.5,1453.0 1546.1,1455.3 1556.7,1457.6 1567.5,1459.8 1578.3,1462.0 1589.2,1464.1 1600.2,1466.1 1611.3,1468.1 1622.5,1470.1 1633.8,1472.0 1645.1,1473.9 1656.6,1475.7 1668.1,1477.5 1679.8,1479.2 1691.5,1480.9 1703.3,1482.5 1715.2,1484.1 1727.3,1485.6 1739.4,1487.1 1751.6,1488.6 1763.9,1490.0 1776.3,1491.3 1788.8,1492.7 1801.5,1494.0 1814.2,1495.2 1827.0,1496.4 1839.9,1497.6 1853.0,1498.7 1866.1,1499.8 1879.3,1500.9 1892.7,1502.0 1906.1,1503.0 1919.7,1503.9 1933.4,1504.9 1947.2,1505.8 1961.1,1506.7 1975.1,1507.5 1989.2,1508.3 2003.4,1509.1 2017.8,1509.9"/>
<path stroke="#7A4A4A" d="M229.5,1527.5 233.5,1470.7 237.5,1415.8 241.5,1362.8 245.5,1311.5 249.5,1262.1 253.4,1214.4 257.4,1168.3 261.4,1123.9 265.4,1081.1 269.4,1039.8 273.4,1000.1 277.4,961.8 281.4,924.9 285.4,889.5 289.4,855.4 293.4,822.7 297.4,791.2 301.3,761.0 305.3,732.0 309.3,704.2 313.3,677.6 317.3,652.1 321.3,627.7 325.3,604.3 329.3,582.0 333.3,560.7 337.3,540.4 341.3,521.0 345.2,502.6 349.2,485.1 353.2,468.5 357.2,452.7 361.2,437.7 365.2,423.5 369.2,410.2 373.2,397.6 377.2,385.7 381.2,374.5 385.2,364.1 389.1,354.3 393.1,345.2 397.1,336.7 401.1,328.9 405.1,321.6 409.1,314.9 413.1,308.8 417.1,303.2 421.1,298.2 425.1,293.7 429.1,289.7 433.1,286.1 437.0,283.0 441.0,280.4 445.0,278.3 449.0,276.5 453.0,275.2 457.0,274.2 461.0,273.7 465.0,273.5 466.8,273.5 468.7,273.6 470.6,273.8 472.5,274.0 474.4,274.4 476.3,274.7 478.2,275.2 480.2,275.7 482.2,276.3 484.2,277.0 486.2,277.8 488.2,278.6 490.2,279.5 492.3,280.5 494.3,281.5 496.4,282.6 498.5,283.8 500.6,285.1 502.7,286.5 504.9,287.9 507.1,289.4 509.2,291.0 511.4,292.7 513.6,294.4 515.9,296.2 518.1,298.2 520.4,300.1 522.7,302.2 525.0,304.4 527.3,306.6 529.7,308.9 532.0,311.3 534.4,313.7 536.8,316.3 539.2,318.9 541.6,321.6 544.1,324.4 546.6,327.3 549.0,330.3 551.6,333.3 554.1,336.4 556.6,339.6 559.2,342.9 561.8,346.3 564.4,349.8 567.0,353.3 569.7,356.9 572.4,360.6 575.1,364.4 577.8,368.2 580.5,372.2 583.3,376.2 586.1,380.3 588.9,384.5 591.7,388.7 594.5,393.1 597.4,397.5 600.3,402.0 603.2,406.6 606.1,411.2 609.1,416.0 612.1,420.8 615.1,425.7 618.1,430.6 621.2,435.7 624.3,440.8 627.4,446.0 630.5,451.3 633.6,456.6 636.8,462.0 640.0,467.5 643.2,473.1 646.5,478.7 649.8,484.4 653.1,490.2 656.4,496.0 659.8,501.9 663.1,507.9 666.5,513.9 670.0,520.1 673.4,526.2 676.9,532.5 680.4,538.8 684.0,545.1 687.6,551.5 691.2,558.0 694.8,564.6 698.4,571.2 702.1,577.8 705.8,584.5 709.6,591.3 713.4,598.1 717.2,605.0 721.0,611.9 724.9,618.9 728.7,625.9 732.7,633.0 736.6,640.1 740.6,647.2 744.6,654.4 748.7,661.7 752.8,669.0 756.9,676.3 761.0,683.6 765.2,691.0 769.4,698.5 773.6,705.9 777.9,713.4 782.2,721.0 786.6,728.5 790.9,736.1 795.4,743.7 799.8,751.3 804.3,759.0 808.8,766.7 813.4,774.4 817.9,782.1 822.6,789.8 827.2,797.6 831.9,805.4 836.7,813.1 841.4,820.9 846.2,828.7 851.1,836.5 856.0,844.3 860.9,852.2 865.9,860.0 870.9,867.8 875.9,875.6 881.0,883.4 886.1,891.3 891.3,899.1 896.5,906.9 901.7,914.7 907.0,922.5 912.3,930.2 917.7,938.0 923.1,945.7 928.5,953.5 934.0,961.2 939.6,968.9 945.1,976.5 950.8,984.2 956.4,991.8 962.1,999.4 967.9,1007.0 973.7,1014.5 979.5,1022.1 985.4,1029.5 991.4,1037.0 997.4,1044.4 1003.4,1051.8 1009.5,1059.1 1015.6,1066.4 1021.8,1073.7 1028.0,1080.9 1034.3,1088.1 1040.6,1095.3 1047.0,1102.4 1053.4,1109.4 1059.9,1116.4 1066.4,1123.4 1073.0,1130.3 1079.6,1137.1 1086.3,1143.9 1093.0,1150.7 1099.8,1157.4 1106.7,1164.0 1113.6,1170.6 1120.5,1177.2 1127.5,1183.6 1134.6,1190.1 1141.7,1196.4 1148.8,1202.7 1156.1,1208.9 1163.3,1215.1 1170.7,1221.2 1178.1,1227.3 1185.5,1233.3 1193.0,1239.2 1200.6,1245.0 1208.3,1250.8 1215.9,1256.6 1223.7,1262.2 1231.5,1267.8 1239.4,1273.3 1247.3,1278.8 1255.3,1284.2 1263.4,1289.5 1271.5,1294.7 1279.7,1299.9 1287.9,1305.0 1296.3,1310.0 1304.6,1315.0 1313.1,1319.9 1321.6,1324.7 1330.2,1329.5 1338.8,1334.2 1347.6,1338.8 1356.3,1343.3 1365.2,1347.8 1374.1,1352.2 1383.1,1356.5 1392.2,1360.8 1401.3,1364.9 1410.5,1369.1 1419.8,1373.1 1429.2,1377.1 1438.6,1381.0 1448.1,1384.8 1457.7,1388.6 1467.3,1392.3 1477.1,1395.9 1486.9,1399.5 1496.7,1403.0 1506.7,1406.4 1516.7,1409.8 1526.8,1413.1 1537.0,1416.3 1547.3,1419.4 1557.7,1422.5 1568.1,1425.6 1578.6,1428.5 1589.2,1431.4 1599.9,1434.3 1610.7,1437.1 1621.5,1439.8 1632.5,1442.4 1643.5,1445.0 1654.6,1447.6 1665.8,1450.1 1677.1,1452.5 1688.5,1454.8 1699.9,1457.1 1711.5,1459.4 1723.1,1461.6 1734.9,1463.7 1746.7,1465.8 1758.6,1467.9 1770.7,1469.8 1782.8,1471.8 1795.0,1473.6 1807.3,1475.5 1819.7,1477.3 1832.2,1479.0 1844.8,1480.7 1857.5,1482.3 1870.3,1483.9 1883.1,1485.5 1896.1,1487.0 1909.2,1488.4 1922.4,1489.9 1935.7,1491.2 1949.1,1492.6 1962.7,1493.9 1976.3,1495.1 1990.0,1496.3 2003.8,1497.5 2017.8,1498.7"/>
<path stroke="#8C8C04" d="M229.5,1527.5 234.1,1462.6 238.6,1400.0 243.2,1339.4 247.8,1281.0 252.3,1224.5 256.9,1170.0 261.4,1117.4 266.0,1066.7 270.6,1017.8 275.1,970.7 279.7,925.3 284.3,881.6 288.8,839.6 293.4,799.1 297.9,760.2 302.5,722.8 307.1,686.9 311.6,652.4 316.2,619.3 320.8,587.6 325.3,557.2 329.9,528.0 334.5,500.2 339.0,473.5 343.6,448.1 348.1,423.7 352.7,400.6 357.3,378.5 361.8,357.4 366.4,337.4 371.0,318.4 375.5,300.4 380.1,283.3 384.7,267.2 389.2,251.9 393.8,237.5 398.3,223.9 402.9,211.2 407.5,199.3 412.0,188.1 416.6,177.7 421.2,168.0 425.7,159.0 430.3,150.8 434.8,143.1 439.4,136.1 444.0,129.8 448.5,124.0 453.1,118.9 457.7,114.3 462.2,110.3 466.8,106.8 471.4,103.8 475.9,101.3 480.5,99.3 485.0,97.8 489.6,96.7 494.2,96.0 498.7,95.8 500.7,95.9 502.7,96.0 504.7,96.1 506.7,96.4 508.8,96.7 510.8,97.1 512.9,97.5 514.9,98.1 517.0,98.7 519.2,99.3 521.3,100.1 523.4,100.9 525.6,101.8 527.7,102.8 529.9,103.8 532.1,104.9 534.4,106.1 536.6,107.4 538.9,108.7 541.1,110.2 543.4,111.7 545.7,113.3 548.0,114.9 550.4,116.7 552.7,118.5 555.1,120.4 557.5,122.4 559.9,124.4 562.3,126.6 564.8,128.8 567.2,131.1 569.7,133.5 572.2,135.9 574.7,138.5 577.2,141.1 579.8,143.8 582.4,146.6 584.9,149.5 587.6,152.5 590.2,155.5 592.8,158.7 595.5,161.9 598.2,165.2 600.9,168.5 603.6,172.0 606.4,175.5 609.1,179.2 611.9,182.9 614.7,186.7 617.5,190.5 620.4,194.5 623.3,198.5 626.1,202.7 629.1,206.9 632.0,211.2 634.9,215.5 637.9,220.0 640.9,224.5 643.9,229.1 647.0,233.8 650.0,238.6 653.1,243.5 656.2,248.4 659.4,253.4 662.5,258.5 665.7,263.7 668.9,269.0 672.1,274.3 675.4,279.7 678.6,285.2 681.9,290.7 685.2,296.4 688.6,302.1 692.0,307.9 695.4,313.7 698.8,319.7 702.2,325.7 705.7,331.8 709.2,337.9 712.7,344.1 716.2,350.4 719.8,356.8 723.4,363.2 727.0,369.7 730.7,376.3 734.4,382.9 738.1,389.6 741.8,396.4 745.6,403.2 749.3,410.1 753.2,417.0 757.0,424.0 760.9,431.1 764.8,438.2 768.7,445.4 772.7,452.6 776.6,459.9 780.7,467.2 784.7,474.6 788.8,482.1 792.9,489.6 797.0,497.1 801.2,504.7 805.4,512.3 809.6,520.0 813.8,527.7 818.1,535.5 822.5,543.3 826.8,551.2 831.2,559.1 835.6,567.0 840.0,574.9 844.5,582.9 849.0,591.0 853.6,599.0 858.2,607.1 862.8,615.2 867.4,623.4 872.1,631.6 876.8,639.8 881.6,648.0 886.4,656.2 891.2,664.5 896.0,672.8 900.9,681.1 905.8,689.4 910.8,697.7 915.8,706.1 920.8,714.4 925.9,722.8 931.0,731.2 936.2,739.5 941.4,747.9 946.6,756.3 951.8,764.7 957.1,773.1 962.5,781.5 967.9,789.9 973.3,798.2 978.7,806.6 984.2,815.0 989.8,823.4 995.4,831.7 1001.0,840.0 1006.6,848.4 1012.3,856.7 1018.1,865.0 1023.9,873.3 1029.7,881.5 1035.6,889.8 1041.5,898.0 1047.4,906.2 1053.4,914.3 1059.5,922.5 1065.6,930.6 1071.7,938.7 1077.9,946.8 1084.1,954.8 1090.4,962.8 1096.7,970.7 1103.1,978.7 1109.5,986.5 1115.9,994.4 1122.4,1002.2 1129.0,1010.0 1135.6,1017.7 1142.2,1025.4 1148.9,1033.0 1155.7,1040.6 1162.5,1048.2 1169.3,1055.7 1176.2,1063.1 1183.2,1070.5 1190.2,1077.9 1197.2,1085.2 1204.3,1092.4 1211.5,1099.6 1218.7,1106.8 1225.9,1113.8 1233.2,1120.9 1240.6,1127.8 1248.0,1134.8 1255.5,1141.6 1263.0,1148.4 1270.6,1155.1 1278.2,1161.8 1285.9,1168.4 1293.7,1175.0 1301.5,1181.4 1309.4,1187.9 1317.3,1194.2 1325.3,1200.5 1333.3,1206.7 1341.4,1212.9 1349.6,1219.0 1357.8,1225.0 1366.1,1230.9 1374.4,1236.8 1382.8,1242.6 1391.3,1248.4 1399.8,1254.1 1408.4,1259.7 1417.0,1265.2 1425.7,1270.7 1434.5,1276.1 1443.4,1281.4 1452.3,1286.7 1461.2,1291.9 1470.3,1297.0 1479.4,1302.0 1488.5,1307.0 1497.8,1311.9 1507.1,1316.7 1516.5,1321.5 1525.9,1326.2 1535.4,1330.8 1545.0,1335.4 1554.6,1339.8 1564.4,1344.3 1574.2,1348.6 1584.0,1352.9 1594.0,1357.1 1604.0,1361.2 1614.1,1365.3 1624.2,1369.2 1634.5,1373.2 1644.8,1377.0 1655.2,1380.8 1665.6,1384.5 1676.2,1388.2 1686.8,1391.8 1697.5,1395.3 1708.2,1398.7 1719.1,1402.1 1730.0,1405.5 1741.0,1408.7 1752.1,1411.9 1763.3,1415.1 1774.5,1418.1 1785.9,1421.1 1797.3,1424.1 1808.8,1427.0 1820.4,1429.8 1832.1,1432.6 1843.8,1435.3 1855.7,1437.9 1867.6,1440.5 1879.6,1443.0 1891.7,1445.5 1903.9,1447.9 1916.2,1450.3 1928.6,1452.6 1941.0,1454.9 1953.6,1457.1 1966.3,1459.2 1979.0,1461.3 1991.8,1463.4 2004.8,1465.4 2017.8,1467.4"/>
</g>
<rect x="224.8" y="82" width="3" height="1449" fill="#d6ccd0"/><rect x="2016.8" y="82" width="3.2" height="1449" fill="#b4b8b8"/>
<g fill="#000">
<rect x="227.6" y="82" width="3.8" height="1448.8"/>
<rect x="227.6" y="82" width="1789.5" height="3.6"/>
<rect x="231" y="85.4" width="1784.3" height="2.8" fill="#4c524c"/>
<rect x="227.6" y="1524.8" width="1789.5" height="5.8" fill="#0d1410"/>
<rect x="2013.6" y="82" width="3.5" height="1448.6"/>
</g>
<g fill="#000"><rect x="231" y="1404.7" width="11" height="5.2"/><rect x="231" y="1284.5" width="26" height="5.2"/><rect x="231" y="1164.3" width="11" height="5.2"/><rect x="231" y="1044.1" width="26" height="5.2"/><rect x="231" y="923.9" width="11" height="5.2"/><rect x="231" y="803.7" width="26" height="5.2"/><rect x="231" y="683.5" width="11" height="5.2"/><rect x="231" y="563.3" width="26" height="5.2"/><rect x="231" y="443.1" width="11" height="5.2"/><rect x="231" y="322.9" width="26" height="5.2"/><rect x="231" y="202.7" width="11" height="5.2"/><rect x="375.8" y="1512" width="5.2" height="13"/><rect x="524.7" y="1500.7" width="5.2" height="25"/><rect x="673.6" y="1512" width="5.2" height="13"/><rect x="822.5" y="1500.7" width="5.2" height="25"/><rect x="971.4" y="1512" width="5.2" height="13"/><rect x="1120.3" y="1500.7" width="5.2" height="25"/><rect x="1269.2" y="1512" width="5.2" height="13"/><rect x="1418.1" y="1500.7" width="5.2" height="25"/><rect x="1567.0" y="1512" width="5.2" height="13"/><rect x="1715.9" y="1500.7" width="5.2" height="25"/><rect x="1864.8" y="1512" width="5.2" height="13"/></g>
<g stroke="#fff" stroke-width="1.2"><text x="197.5" y="1545.0" text-anchor="end" font-size="60">0</text><text x="197.5" y="1304.6" text-anchor="end" font-size="60">1</text><text x="197.5" y="1064.2" text-anchor="end" font-size="60">2</text><text x="197.5" y="823.8" text-anchor="end" font-size="60">3</text><text x="197.5" y="583.4" text-anchor="end" font-size="60">4</text><text x="197.5" y="343.0" text-anchor="end" font-size="60">5</text><text x="197.5" y="102.6" text-anchor="end" font-size="60">6</text><text x="229.5" y="1605.5" text-anchor="middle" font-size="62">0.0</text><text x="527.3" y="1605.5" text-anchor="middle" font-size="62">0.1</text><text x="825.1" y="1605.5" text-anchor="middle" font-size="62">0.2</text><text x="1122.9" y="1605.5" text-anchor="middle" font-size="62">0.3</text><text x="1420.7" y="1605.5" text-anchor="middle" font-size="62">0.4</text><text x="1718.5" y="1605.5" text-anchor="middle" font-size="62">0.5</text><text x="2016.3" y="1605.5" text-anchor="middle" font-size="62">0.6</text></g>
<text x="1122.5" y="1732" text-anchor="middle" font-size="89" stroke="#fff" stroke-width="0.8">Slip (mm)</text>
<text transform="translate(128.6,804.6) rotate(-90)" text-anchor="middle" font-size="89.3" stroke="#fff" stroke-width="0.8">Bond stress(MPa)</text>
<text x="0" y="0" transform="translate(1709,173) scale(1.25,1)" class="dv" font-style="italic" font-size="70" stroke="#fff" stroke-width="1.4">f</text><text class="tm" x="1740" y="191" font-style="italic" font-size="52">c</text><text class="tm" x="1780" y="173" font-size="76">(MPa)</text><rect x="1591.7" y="244.7" width="171" height="6.6" fill="#484848"/><text transform="translate(1783.5,271.5) scale(0.965,1)" font-size="77" stroke="#fff" stroke-width="0.7">11.40</text><rect x="1591.7" y="328.3" width="171" height="6.6" fill="#EE4242"/><text transform="translate(1783.5,355.1) scale(0.965,1)" font-size="77" stroke="#fff" stroke-width="0.7">13.29</text><rect x="1591.7" y="411.8" width="171" height="6.6" fill="#1459E6"/><text transform="translate(1783.5,438.6) scale(0.965,1)" font-size="77" stroke="#fff" stroke-width="0.7">14.59</text><rect x="1591.7" y="495.4" width="171" height="6.6" fill="#32AD6A"/><text transform="translate(1783.5,522.2) scale(0.965,1)" font-size="77" stroke="#fff" stroke-width="0.7">15.88</text><rect x="1591.7" y="578.9" width="171" height="6.6" fill="#B274DE"/><text transform="translate(1783.5,605.7) scale(0.965,1)" font-size="77" stroke="#fff" stroke-width="0.7">17.18</text><rect x="1591.7" y="662.5" width="171" height="6.6" fill="#D09C0A"/><text transform="translate(1783.5,689.3) scale(0.965,1)" font-size="77" stroke="#fff" stroke-width="0.7">18.48</text><rect x="1591.7" y="746.1" width="171" height="6.6" fill="#10C8D2"/><text transform="translate(1783.5,772.9) scale(0.965,1)" font-size="77" stroke="#fff" stroke-width="0.7">19.78</text><rect x="1591.7" y="829.6" width="171" height="6.6" fill="#7A4A4A"/><text transform="translate(1783.5,856.4) scale(0.965,1)" font-size="77" stroke="#fff" stroke-width="0.7">21.81</text><rect x="1591.7" y="913.2" width="171" height="6.6" fill="#8C8C04"/><text transform="translate(1783.5,940.0) scale(0.965,1)" font-size="77" stroke="#fff" stroke-width="0.7">25.57</text>
</svg></body></html>
